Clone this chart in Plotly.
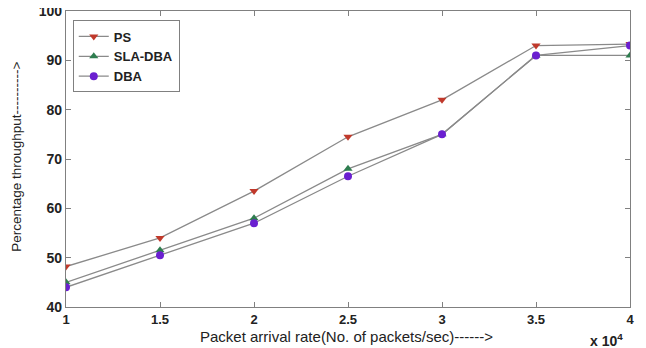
import plotly.graph_objects as go

x_vals = [10000, 15000, 20000, 25000, 30000, 35000, 40000]
ps = [48.2, 54.0, 63.5, 74.5, 82.0, 93.0, 93.3]
sla_dba = [45.0, 51.5, 58.0, 68.0, 75.0, 91.0, 91.0]
dba = [44.0, 50.5, 57.0, 66.5, 75.0, 91.0, 93.0]
x_tick_vals = [10000, 15000, 20000, 25000, 30000, 35000, 40000]
x_tick_text = ["1", "1.5", "2", "2.5", "3", "3.5", "4"]
y_tick_vals = [40, 50, 60, 70, 80, 90, 100]

fig = go.Figure()
series = [
    ("PS", ps, "triangle-down", "#c0392b"),
    ("SLA-DBA", sla_dba, "triangle-up", "#2e7d4f"),
    ("DBA", dba, "circle", "#6a1fd0"),
]
for name, vals, sym, col in series:
    fig.add_trace(go.Scatter(
        x=x_vals, y=vals, name=name, mode="lines+markers",
        line=dict(color="#8a8a8a", width=1.3),
        marker=dict(symbol=sym, color=col, size=8, line=dict(width=0)),
    ))

tick_font = dict(family="Arial, Liberation Sans", size=14, color="#222", weight="bold")
axis_common = dict(
    showgrid=False, zeroline=False, showline=True, linecolor="#808080",
    linewidth=1.2, mirror="ticks", ticks="inside", ticklen=5, tickcolor="#808080",
    automargin=False, ticklabeloverflow="allow",
)
fig.update_xaxes(range=[10000, 40000], tickvals=x_tick_vals, ticktext=x_tick_text,
                 tickfont=dict(tick_font, size=13), **axis_common)
fig.update_yaxes(range=[40, 100], tickvals=y_tick_vals, tickfont=tick_font, **axis_common)

title_font = dict(family="Arial, Liberation Sans", color="#222")
fig.add_annotation(xref="paper", yref="paper", x=0.498, y=-0.1, xanchor="center", yanchor="middle",
                   text="Packet arrival rate(No. of packets/sec)------>", showarrow=False,
                   font=dict(size=15, **title_font))
fig.add_annotation(xref="paper", yref="paper", x=-0.087, y=0.507, xanchor="center", yanchor="middle",
                   text="Percentage throughput---------->", showarrow=False, textangle=-90,
                   font=dict(size=13.5, **title_font))
fig.add_annotation(xref="paper", yref="paper", x=0.991, y=-0.11, xanchor="right", yanchor="middle",
                   text="<b>x 10<sup>4</sup></b>", showarrow=False,
                   font=dict(size=14, **title_font))

fig.update_layout(
    width=646, height=348,
    margin=dict(l=58, r=24, t=3, b=49),
    paper_bgcolor="white", plot_bgcolor="white",
    showlegend=True,
    legend=dict(x=0.012, y=0.968, xanchor="left", yanchor="top",
                bordercolor="#808080", borderwidth=1, bgcolor="white",
                font=dict(family="Arial, Liberation Sans", size=13, color="#222", weight="bold"),
                tracegroupgap=0, itemwidth=30),
)
fig.write_html("out.html")
